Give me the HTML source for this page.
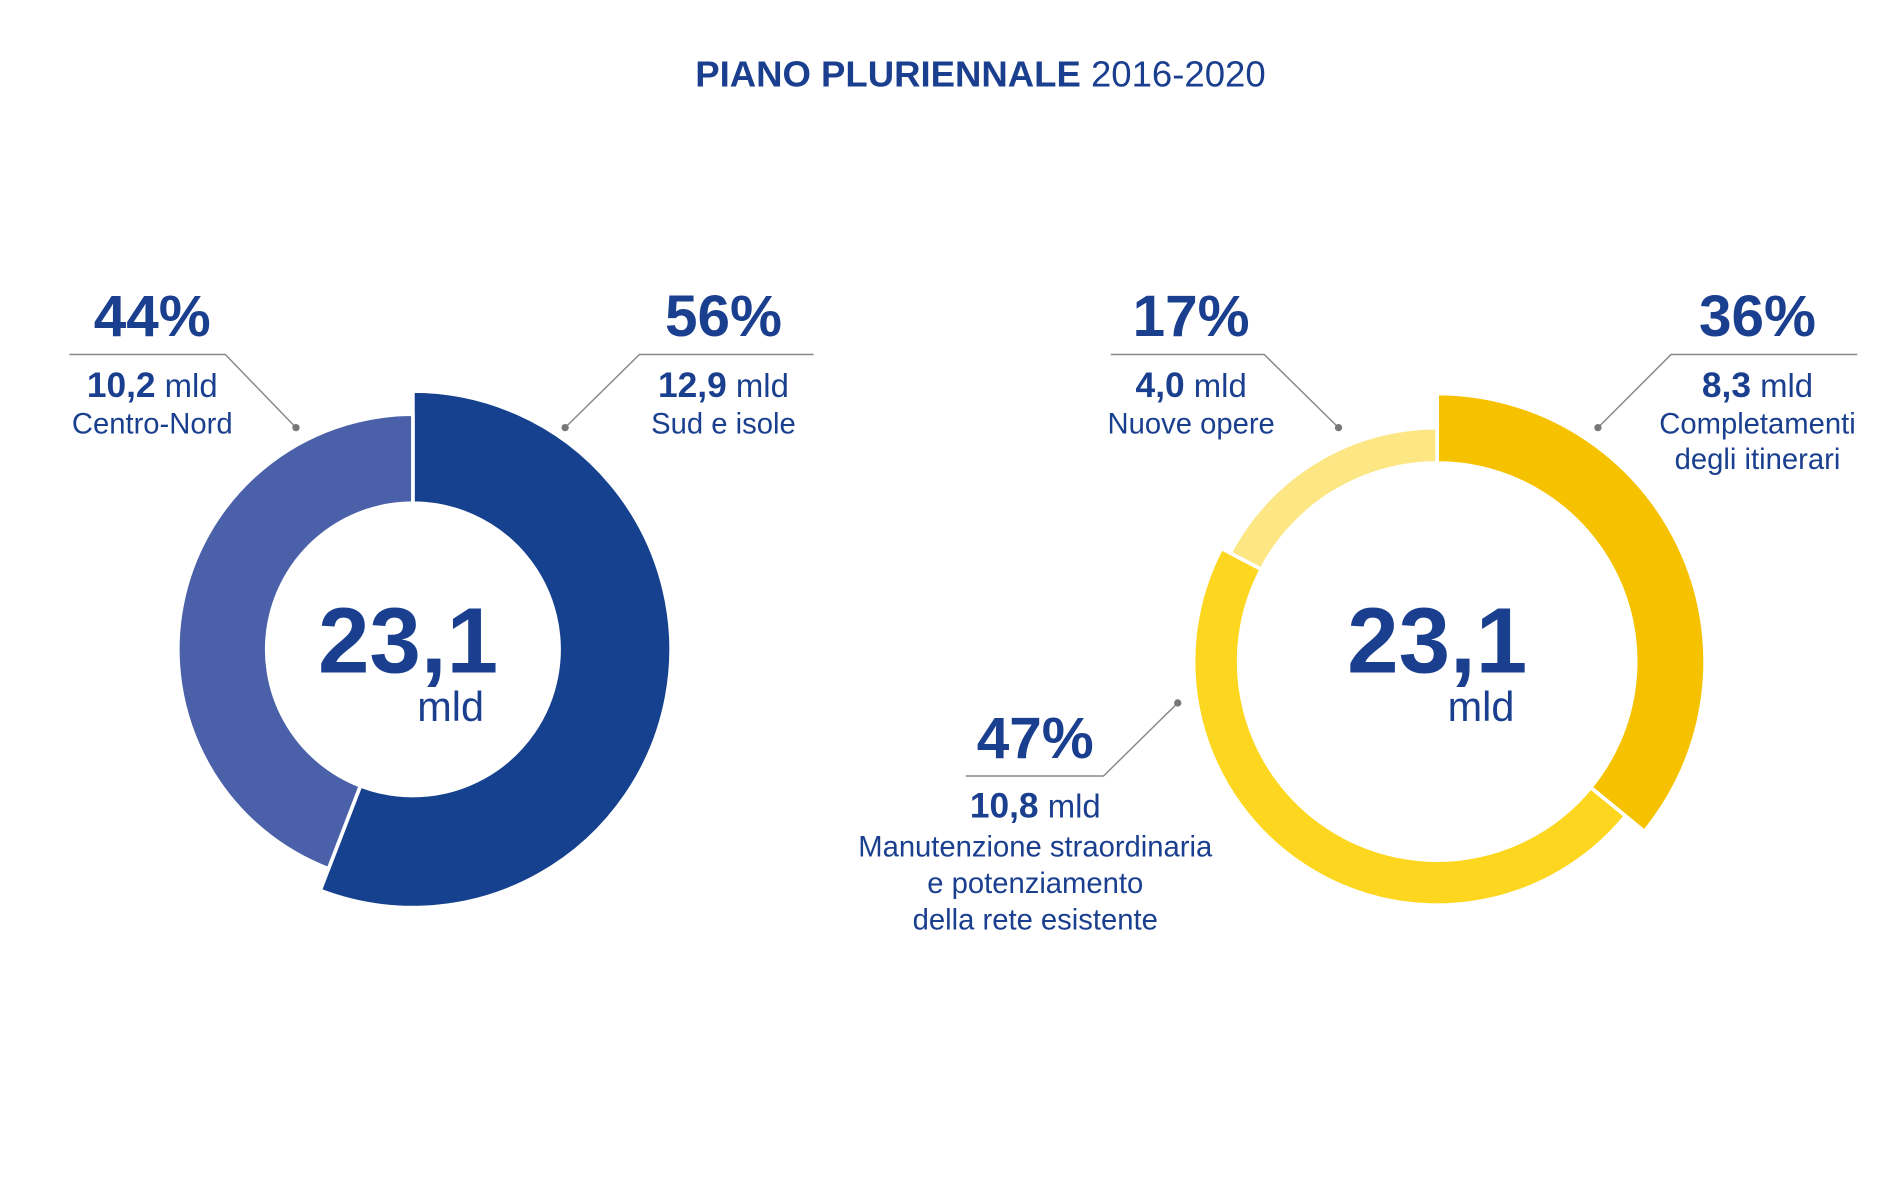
<!DOCTYPE html>
<html><head><meta charset="utf-8"><style>
html,body{margin:0;padding:0;background:#fff}
svg{display:block}
text{font-family:"Liberation Sans",Arial,sans-serif;fill:#1a3f8f}
.b{font-weight:bold}
</style></head><body>
<svg id="chart" width="1900" height="1200" viewBox="0 0 1560 985" preserveAspectRatio="none" xmlns="http://www.w3.org/2000/svg">
<text x="805" y="71" text-anchor="middle" font-size="30"><tspan class="b" font-weight="bold">PIANO PLURIENNALE</tspan> 2016-2020</text>
<g id="leftDonut"></g>
<g id="rightDonut"></g>
<g stroke="#888" stroke-width="1.2" fill="none">
<polyline points="57,291 185,291 243,351"/><polyline points="668,291 525,291 464,351"/>
<polyline points="912,291 1038,291 1099,351"/><polyline points="1525,291 1372,291 1312,351"/>
<polyline points="793,637 906,637 967,577"/>
</g>
<g fill="#777">
<circle cx="243" cy="351" r="3"/><circle cx="464" cy="351" r="3"/><circle cx="1099" cy="351" r="3"/><circle cx="1312" cy="351" r="3"/><circle cx="967" cy="577" r="3"/>
</g>
<g text-anchor="middle">
<text x="125" y="276" font-size="48" font-weight="bold">44%</text>
<text x="125" y="326" font-size="27"><tspan font-weight="bold" font-size="29">10,2</tspan> mld</text>
<text x="125" y="356" font-size="24">Centro-Nord</text>
<text x="594" y="276" font-size="48" font-weight="bold">56%</text>
<text x="594" y="326" font-size="27"><tspan font-weight="bold" font-size="29">12,9</tspan> mld</text>
<text x="594" y="356" font-size="24">Sud e isole</text>
<text x="978" y="276" font-size="48" font-weight="bold">17%</text>
<text x="978" y="326" font-size="27"><tspan font-weight="bold" font-size="29">4,0</tspan> mld</text>
<text x="978" y="356" font-size="24">Nuove opere</text>
<text x="1443" y="276" font-size="48" font-weight="bold">36%</text>
<text x="1443" y="326" font-size="27"><tspan font-weight="bold" font-size="29">8,3</tspan> mld</text>
<text x="1443" y="356" font-size="24">Completamenti</text>
<text x="1443" y="385" font-size="24">degli itinerari</text>
<text x="850" y="622" font-size="48" font-weight="bold">47%</text>
<text x="850" y="671" font-size="27"><tspan font-weight="bold" font-size="29">10,8</tspan> mld</text>
<text x="850" y="703" font-size="24">Manutenzione straordinaria</text>
<text x="850" y="733" font-size="24">e potenziamento</text>
<text x="850" y="763" font-size="24">della rete esistente</text>
<text x="335" y="552" font-size="76" font-weight="bold">23,1</text>
<text x="370" y="592" font-size="34">mld</text>
<text x="1180" y="552" font-size="76" font-weight="bold">23,1</text>
<text x="1216" y="592" font-size="34">mld</text>
</g>
</svg>
<script>
const leftCategories = ["Sud e isole", "Centro-Nord"];
const leftValues = [12.9, 10.2];
const rightCategories = ["Completamenti degli itinerari", "Manutenzione straordinaria", "Nuove opere"];
const rightValues = [8.3, 10.8, 4.0];

const NS = "http://www.w3.org/2000/svg";
function pt(cx, cy, r, a) { return [cx + r * Math.sin(a), cy - r * Math.cos(a)]; }
function arcPath(cx, cy, r0, r1, a0, a1) {
  const large = (a1 - a0) > Math.PI ? 1 : 0;
  const p1 = pt(cx, cy, r1, a0), p2 = pt(cx, cy, r1, a1), p3 = pt(cx, cy, r0, a1), p4 = pt(cx, cy, r0, a0);
  return `M${p1[0]},${p1[1]} A${r1},${r1} 0 ${large} 1 ${p2[0]},${p2[1]} L${p3[0]},${p3[1]} A${r0},${r0} 0 ${large} 0 ${p4[0]},${p4[1]} Z`;
}
function donut(gid, cats, vals, cx, cy, r0, outers, colors) {
  const g = document.getElementById(gid);
  const total = vals.reduce((a, b) => a + b, 0);
  let a = 0;
  vals.forEach((v, i) => {
    const a1 = a + v / total * 2 * Math.PI;
    const p = document.createElementNS(NS, "path");
    p.setAttribute("d", arcPath(cx, cy, r0, outers[i], a, a1));
    p.setAttribute("fill", colors[i]);
    p.setAttribute("stroke", "#fff");
    p.setAttribute("stroke-width", "3");
    
    
    p.setAttribute("aria-label", cats[i]);
    g.appendChild(p);
    a = a1;
  });
}
donut("leftDonut", leftCategories, leftValues, 339, 533, 120, [212, 193], ["#16418f", "#4a60a8"]);
donut("rightDonut", rightCategories, rightValues, 1180, 543, 163, [220, 200, 192], ["#f6c200", "#fdd71f", "#fde784"]);
</script>
</body></html>
